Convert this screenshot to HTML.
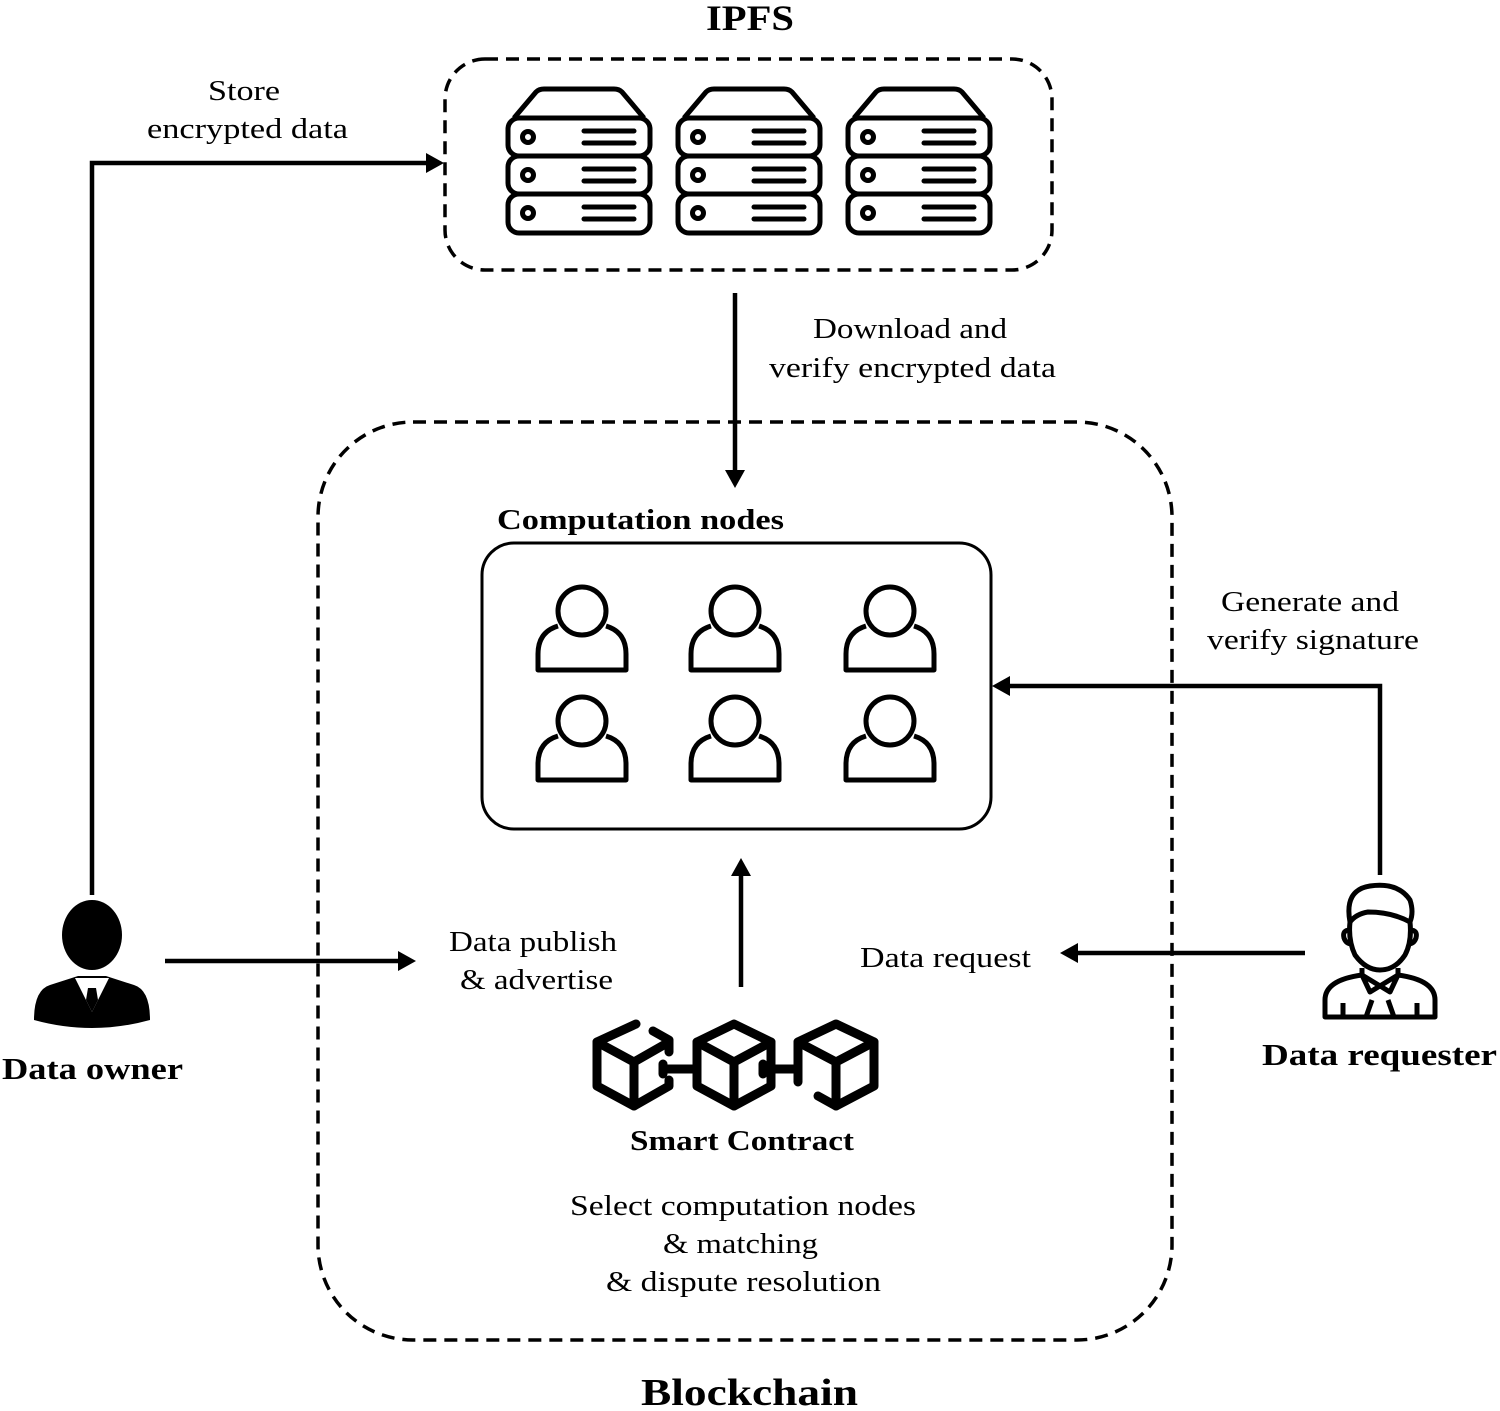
<!DOCTYPE html>
<html><head><meta charset="utf-8"><style>
html,body{margin:0;padding:0;background:#fff;}
svg{display:block;}
text{font-family:"Liberation Serif",serif;fill:#000;}
</style></head><body>
<svg width="1500" height="1411" viewBox="0 0 1500 1411" xmlns="http://www.w3.org/2000/svg">
<defs>
<g id="srv" fill="none" stroke="#000" stroke-width="5" stroke-linejoin="round">
 <path d="M8,30 L30,4 Q33,1 38,1 L108,1 Q113,1 116,4 L138,30"/>
 <rect x="2" y="30" width="142" height="38" rx="11"/>
 <rect x="2" y="68" width="142" height="38" rx="11"/>
 <rect x="2" y="106" width="142" height="39" rx="11"/>
 <circle cx="22" cy="49" r="5.5"/><circle cx="22" cy="87" r="5.5"/><circle cx="22" cy="125" r="5.5"/>
 <path d="M78,43H128M78,55H128M78,81H128M78,93H128M78,119H128M78,131H128" stroke-linecap="round"/>
</g>
<g id="usr" fill="none" stroke="#000" stroke-width="5">
 <circle cx="0" cy="23" r="24"/>
 <path d="M-24,38 Q-44,44 -44,66 L-44,82 L44,82 L44,66 Q44,44 24,38" stroke-linejoin="round"/>
</g>
</defs>

<!-- IPFS -->
<text x="750" y="30" font-size="36" font-weight="bold" text-anchor="middle" textLength="88" lengthAdjust="spacingAndGlyphs">IPFS</text>
<rect x="445" y="59" width="607" height="211" rx="40" fill="none" stroke="#000" stroke-width="3.5" stroke-dasharray="13,8"/>
<use href="#srv" x="506" y="88"/>
<use href="#srv" x="676" y="88"/>
<use href="#srv" x="846" y="88"/>

<!-- Store arrow -->
<polyline points="92,895 92,163 428,163" fill="none" stroke="#000" stroke-width="4.5"/>
<path d="M426,153 L444,163 L426,173 Z"/>
<text x="208" y="100" font-size="28" textLength="72" lengthAdjust="spacingAndGlyphs">Store</text>
<text x="147" y="138" font-size="28" textLength="201" lengthAdjust="spacingAndGlyphs">encrypted data</text>

<!-- Download arrow -->
<line x1="735" y1="293" x2="735" y2="472" stroke="#000" stroke-width="4.5"/>
<path d="M725,470 L735,488 L745,470 Z"/>
<text x="813" y="338" font-size="28" textLength="194" lengthAdjust="spacingAndGlyphs">Download and</text>
<text x="769" y="377" font-size="28" textLength="287" lengthAdjust="spacingAndGlyphs">verify encrypted data</text>

<!-- Blockchain box -->
<rect x="318" y="422" width="854" height="918" rx="95" fill="none" stroke="#000" stroke-width="3.5" stroke-dasharray="13,8"/>
<text x="641" y="1405" font-size="38" font-weight="bold" textLength="217" lengthAdjust="spacingAndGlyphs">Blockchain</text>

<!-- Computation nodes -->
<text x="497" y="529" font-size="29" font-weight="bold" textLength="287" lengthAdjust="spacingAndGlyphs">Computation nodes</text>
<rect x="482" y="543" width="509" height="286" rx="32" fill="none" stroke="#000" stroke-width="3"/>
<use href="#usr" x="582" y="588"/><use href="#usr" x="735" y="588"/><use href="#usr" x="890" y="588"/>
<use href="#usr" x="582" y="698"/><use href="#usr" x="735" y="698"/><use href="#usr" x="890" y="698"/>

<!-- requester to nodes -->
<polyline points="1380,875 1380,686 1008,686" fill="none" stroke="#000" stroke-width="4.5"/>
<path d="M1010,676 L992,686 L1010,696 Z"/>
<text x="1221" y="611" font-size="28" textLength="178" lengthAdjust="spacingAndGlyphs">Generate and</text>
<text x="1207" y="649" font-size="28" textLength="212" lengthAdjust="spacingAndGlyphs">verify signature</text>

<!-- up arrow -->
<line x1="741" y1="987" x2="741" y2="874" stroke="#000" stroke-width="4.5"/>
<path d="M731,876 L741,858 L751,876 Z"/>

<!-- data owner arrow -->
<line x1="165" y1="961" x2="400" y2="961" stroke="#000" stroke-width="4.5"/>
<path d="M398,951 L416,961 L398,971 Z"/>
<text x="449" y="951" font-size="28" textLength="168" lengthAdjust="spacingAndGlyphs">Data publish</text>
<text x="460" y="989" font-size="28" textLength="153" lengthAdjust="spacingAndGlyphs">&amp; advertise</text>

<!-- data request arrow -->
<line x1="1305" y1="953" x2="1076" y2="953" stroke="#000" stroke-width="4.5"/>
<path d="M1078,943 L1060,953 L1078,963 Z"/>
<text x="860" y="967" font-size="28" textLength="171" lengthAdjust="spacingAndGlyphs">Data request</text>

<!-- Smart contract cubes -->
<g fill="none" stroke="#000" stroke-width="9" stroke-linejoin="round" stroke-linecap="round">
 <path d="M636,1024 L597,1042 L597,1086 L634,1106 L669,1086 L669,1080"/>
 <path d="M653,1031 L669,1040 L669,1052"/>
 <path d="M597,1042 L634,1062 L669,1042 M634,1062 L634,1106"/>
 <path d="M663,1064 L663,1074 M663,1069 L695,1069"/>
 <path d="M734,1024 L771,1042 L771,1086 L734,1106 L697,1086 L697,1042 Z"/>
 <path d="M697,1042 L734,1062 L771,1042 M734,1062 L734,1106"/>
 <path d="M763,1064 L763,1074 M763,1069 L798,1069"/>
 <path d="M798,1082 L798,1042 L836,1024 L874,1042 L874,1086 L836,1106 L818,1096"/>
 <path d="M798,1042 L836,1062 L874,1042 M836,1062 L836,1106"/>
</g>
<text x="630" y="1150" font-size="29" font-weight="bold" textLength="224" lengthAdjust="spacingAndGlyphs">Smart Contract</text>
<text x="570" y="1215" font-size="28" textLength="346" lengthAdjust="spacingAndGlyphs">Select computation nodes</text>
<text x="663" y="1253" font-size="28" textLength="155" lengthAdjust="spacingAndGlyphs">&amp; matching</text>
<text x="606" y="1291" font-size="28" textLength="275" lengthAdjust="spacingAndGlyphs">&amp; dispute resolution</text>

<!-- Data owner -->
<path d="M34,1020 Q34,990 50,985 L78,976 L106,976 L134,985 Q150,990 150,1020 Q92,1036 34,1020 Z"/>
<ellipse cx="92" cy="935" rx="30" ry="35"/>
<path d="M75,978 L92,1012 L109,978 Z" fill="#fff"/>
<path d="M88,988 L96,988 L98,1000 L92,1012 L86,1000 Z"/>
<text x="2" y="1079" font-size="31" font-weight="bold" textLength="181" lengthAdjust="spacingAndGlyphs">Data owner</text>

<!-- Data requester -->
<g fill="none" stroke="#000" stroke-width="5" stroke-linejoin="round">
 <path d="M1350,922 Q1348,940 1355,955 Q1366,970 1380,970 Q1395,970 1405,955 Q1412,942 1410,922"/>
 <path d="M1350,922 Q1344,890 1370,886 Q1398,882 1410,900 Q1414,912 1410,922 Q1392,912 1368,912 Q1356,914 1350,922"/>
 <path d="M1350,930 Q1342,930 1344,938 Q1346,944 1352,944"/>
 <path d="M1410,930 Q1418,930 1416,938 Q1414,944 1408,944"/>
 <path d="M1362,968 L1362,975 Q1325,980 1325,1000 L1325,1017 L1435,1017 L1435,1000 Q1435,980 1398,975 L1398,968"/>
 <path d="M1362,975 L1370,992 L1398,975 M1362,975 L1390,992 L1398,975"/>
 <path d="M1372,1000 L1366,1017 M1388,1000 L1394,1017 M1343,1003 V1017 M1417,1003 V1017"/>
</g>
<text x="1262" y="1065" font-size="31" font-weight="bold" textLength="235" lengthAdjust="spacingAndGlyphs">Data requester</text>
</svg>
</body></html>
